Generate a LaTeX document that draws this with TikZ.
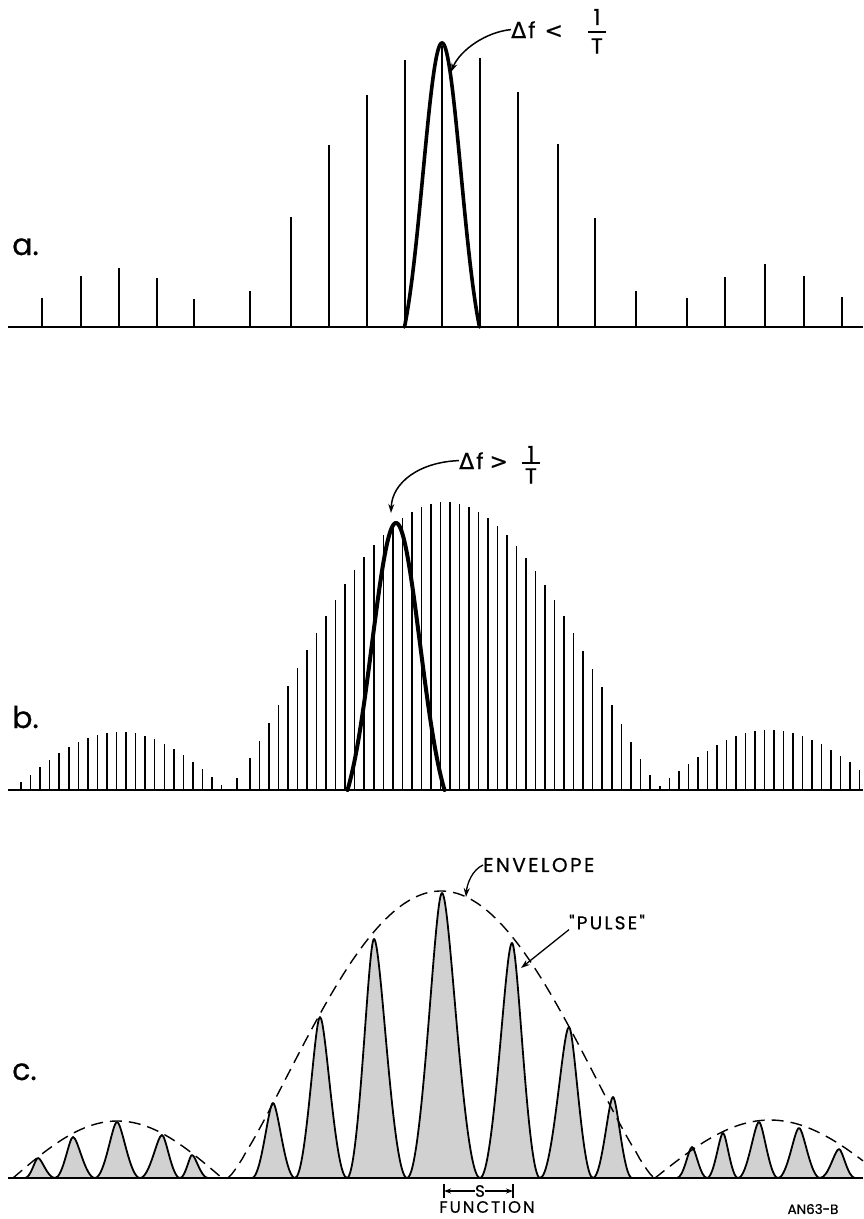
\documentclass[tikz,border=0pt]{standalone}
\usepackage{fontspec}
\setmainfont{Poppins}
\newfontfamily\grk{DejaVu Sans}[FakeBold=0.6]
\newfontfamily\lett{Poppins}[FakeBold=0.6,LetterSpace=12]
\newfontfamily\lettn{Poppins}[FakeBold=0.6]
\usetikzlibrary{arrows.meta}
\begin{document}
\begin{tikzpicture}[x=1pt,y=-1pt,
  axisline/.style={line width=2.4pt,line cap=butt},
  spk/.style={line width=1.5pt},
  bigpulse/.style={line width=3.6pt,line join=round,line cap=round},
  env/.style={line width=1.4pt,dash pattern=on 12pt off 7pt},
  cpulse/.style={draw,line width=1.8pt,fill=black!18,line join=round},
  lbl/.style={font=\lettn\fontsize{30}{34}\selectfont,inner sep=0pt},
  ann/.style={font=\lettn\fontsize{22}{26}\selectfont,inner sep=0pt},
  capt/.style={font=\lett\fontsize{20}{24}\selectfont,inner sep=0pt},
  arr/.style={line width=1.5pt,-{Stealth[length=9pt,width=6pt]}},
  sarr/.style={line width=1.3pt,-{Stealth[length=7pt,width=5pt]}},
  fracbar/.style={line width=1.8pt}]
\useasboundingbox (0,0) rectangle (863,1219);
\fill[white] (0,0) rectangle (863,1219);

% ---------------- part a ----------------
\node[lbl,anchor=base west] (lba) at (12,255) {a.};
\foreach \xx/\tt in {42/298,81/276,119/268,157/278,194/299,250/291,291/217,329/145,367/95,405/60,442/46,480/58,518/92,558/144,595/218,636/291,687/298,725/277,765/264,804/276,842/297}
  \draw[spk] (\xx,327) -- (\xx,\tt);
\draw[bigpulse] plot[domain=-37.5:37.5,samples=90]
  ({442+\x},{327-284*(exp(-(\x)*(\x)/722)-0.1426)/(1-0.1426)});
\draw[axisline] (8,327) -- (863,327);
\coordinate (pa) at (451,72);
\node[ann,anchor=base west] (da) at (511,38) {{\grk Δ}\kern2pt f\kern9pt{\grk <}};
\node[ann] (onea) at (597,17) {1};
\node[ann] (tea) at (597,46) {T};
\draw[fracbar] (588,32) -- (606,32);
\draw[arr] (da.west) .. controls (486,32) and (460,50) .. (pa);

% ---------------- part b ----------------
\node[lbl,anchor=base west] (lbb) at (12,728) {b.};
\foreach \k in {0,...,21} {
  \pgfmathsetmacro\xx{21+9.55*\k}
  \pgfmathsetmacro\hh{58*cos((\xx-120)/108*90)}
  \draw[spk] ({\xx},790) -- ({\xx},{790-\hh});
}
\draw[spk] (237,790) -- (237,778);
\foreach \k in {0,...,42} {
  \pgfmathsetmacro\xx{250+9.52*\k}
  \pgfmathsetmacro\cc{max(abs(cos((\xx-445)/215*90)),0.01)}
  \pgfmathsetmacro\hh{288*exp(1.15*ln(\cc))}
  \draw[spk] ({\xx},790) -- ({\xx},{790-\hh});
}
\foreach \k in {0,...,21} {
  \pgfmathsetmacro\xx{660+9.5*\k}
  \pgfmathsetmacro\hh{60*cos((\xx-770)/115*90)}
  \draw[spk] ({\xx},790) -- ({\xx},{790-\hh});
}
\draw[bigpulse,line width=4pt] plot[domain=-48.5:48.5,samples=90]
  ({396+\x},{790-267*(exp(-(\x)*(\x)/1152)-0.1298)/(1-0.1298)});
\draw[axisline] (8,790) -- (863,790);
\coordinate (pb) at (391,513);
\node[ann,anchor=base west] (db) at (459,469) {{\grk Δ}\kern2pt f\kern6pt{\grk >}};
\node[ann] (oneb) at (531,454) {1};
\node[ann] (teb) at (531,476) {T};
\draw[fracbar] (522,463) -- (540,463);
\draw[arr] (db.west) .. controls (420,462) and (392,482) .. (pb);

% ---------------- part c ----------------
\node[lbl,anchor=base west] (lbc) at (12,1080) {c.};
\foreach \vl/\px/\py/\vr in {25/38/1158/55,55/73/1137/95,95/117/1122/140,140/162/1135/180,180/192/1155/208,
  252/273/1103/295,295/320/1017/347,347/374/939/407,407/442/893/480,480/512/943/540,540/569/1027/593,593/613/1097/632,
  677/692/1147/707,707/723/1133/738,738/759/1122/778,778/799/1128/820,820/839/1149/855}
  \filldraw[cpulse] (\vl,1178)
    .. controls ({\vl+0.45*(\px-\vl)},1178) and ({\px-0.22*(\px-\vl)},\py) .. (\px,\py)
    .. controls ({\px+0.22*(\vr-\px)},\py) and ({\vr-0.45*(\vr-\px)},1178) .. (\vr,1178) -- cycle;
\draw[env] plot[domain=13:222,samples=60] (\x,{1178-57*cos((\x-117.5)/104.5*90)});
\draw[env] plot[domain=228:654,samples=120] (\x,{1178-287*exp(1.2*ln(max(abs(cos((\x-441)/213*90)),0.001)))});
\draw[env] plot[domain=655:863,samples=60] (\x,{1178-58*cos((\x-770)/115*90)});
\draw[axisline,line width=2pt] (8,1178) -- (863,1178);

\node[capt,anchor=west] (envl) at (483,865) {ENVELOPE};
\coordinate (pe) at (466,897);
\draw[arr,line width=1.3pt] (envl.west) .. controls (472,870) and (467,884) .. (pe);
\node[capt,font=\lett\fontsize{18.5}{22}\selectfont,anchor=west] (pulsel) at (569,922) {"PULSE"};
\coordinate (pp) at (521,968);
\draw[arr,line width=1.3pt] (pulsel.south west) -- (pp);

\node[capt,font=\lettn\fontsize{16.5}{20}\selectfont] (sl) at (480,1191) {S};
\coordinate (sla) at (444,1191);
\coordinate (sra) at (513,1191);
\draw[line width=1.3pt] (444,1184) -- (444,1198);
\draw[line width=1.3pt] (513,1184) -- (513,1198);
\draw[sarr] (sl.west) -- (sla);
\draw[sarr] (sl.east) -- (sra);
\node[capt,font=\lett\fontsize{16.5}{20}\selectfont] (fn) at (487,1207) {FUNCTION};
\node[font=\lettn\fontsize{13.5}{16}\selectfont,inner sep=0pt] (an) at (813,1209) {AN63-B};
\end{tikzpicture}
\end{document}
